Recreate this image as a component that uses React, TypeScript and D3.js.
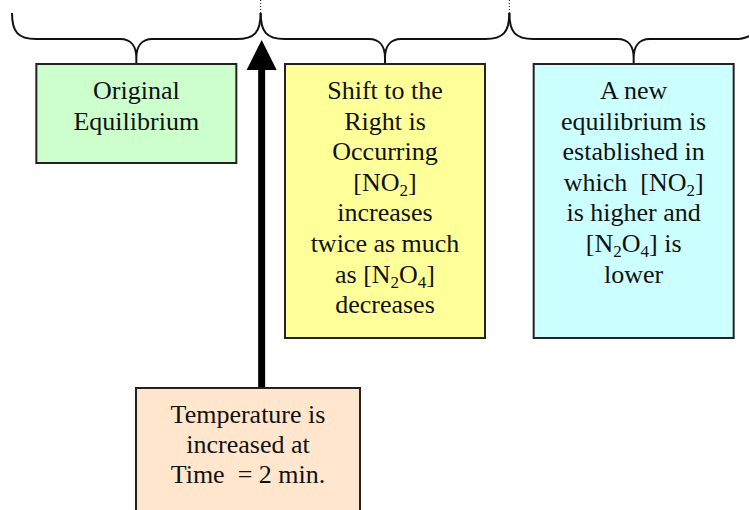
import React from "react";
import * as d3 from "d3";

// time segments (minutes) covered by each brace
const segments = [
  [0, 2],
  [2, 4],
  [4, 6],
];
const eventTime = 2;

// box text, "_n" marks a subscript digit
const boxLines = [
  ["Original", "Equilibrium"],
  [
    "Shift to the",
    "Right is",
    "Occurring",
    "[NO_2]",
    "increases",
    "twice as much",
    "as [N_2O_4]",
    "decreases",
  ],
  [
    "A new",
    "equilibrium is",
    "established in",
    "which  [NO_2]",
    "is higher and",
    "[N_2O_4] is",
    "lower",
  ],
];
const boxHeights = [99, 274, 274];
const boxFills = ["#CCFFCC", "#FFFF99", "#CCFFFF"];

const eventLines = ["Temperature is", "increased at", "Time  = 2 min."];
const eventFill = "#FFE6CC";

const width = 749;
const height = 510;
const x = d3.scaleLinear().domain([0, 6]).range([12, 758]);

const font = "'Liberation Serif', 'Times New Roman', serif";
const fontSize = 26;
const lineGap = 30.6;

function bracePath(x0: number, x1: number) {
  const top = 13;
  const base = 39;
  const tip = 64;
  const xm = (x0 + x1) / 2;
  const p = d3.path();
  p.moveTo(x0, top);
  p.bezierCurveTo(x0, 32, x0 + 6, base, x0 + 24, base);
  p.lineTo(xm - 16, base);
  p.bezierCurveTo(xm - 5, base, xm, 47, xm, 58);
  p.lineTo(xm, tip);
  p.moveTo(xm, 58);
  p.bezierCurveTo(xm, 47, xm + 5, base, xm + 16, base);
  p.lineTo(x1 - 24, base);
  p.bezierCurveTo(x1 - 6, base, x1, 32, x1, top);
  return p.toString();
}

function Line({ text, cx, y }: { text: string; cx: number; y: number }) {
  const parts = text.split(/_(\d)/);
  return (
    <text
      x={cx}
      y={y}
      textAnchor="middle"
      fontFamily={font}
      fontSize={fontSize}
      fill="#111"
      style={{ whiteSpace: "pre" }}
    >
      {parts.map((s, i) =>
        i % 2 === 1 ? (
          <tspan key={i} fontSize={17} dy={5}>
            {s}
          </tspan>
        ) : (
          <tspan key={i} dy={i > 0 ? -5 : 0}>
            {s}
          </tspan>
        )
      )}
    </text>
  );
}

export default function App() {
  const boxW = 200;
  const boxTop = 64;
  const ax = x(eventTime) + 1;
  const evLeft = 136;
  const evW = 224;
  const evTop = 388;

  return (
    <svg
      width={width}
      height={height}
      style={{ position: "absolute", left: 0, top: 0, background: "#fff" }}
    >
      {segments.map(([a, b], i) => (
        <path
          key={"b" + i}
          d={bracePath(x(a), x(b))}
          fill="none"
          stroke="#111"
          strokeWidth={2}
        />
      ))}
      {[2, 4].map((t) => (
        <line
          key={"d" + t}
          x1={x(t)}
          x2={x(t)}
          y1={0}
          y2={13}
          stroke="#111"
          strokeWidth={1}
          strokeDasharray="1,2"
        />
      ))}

      {boxLines.map((lines, i) => {
        const cx = (x(segments[i][0]) + x(segments[i][1])) / 2;
        return (
          <g key={"box" + i}>
            <rect
              x={cx - boxW / 2}
              y={boxTop}
              width={boxW}
              height={boxHeights[i]}
              fill={boxFills[i]}
              stroke="#222"
              strokeWidth={2}
            />
            {lines.map((l, j) => (
              <Line key={j} text={l} cx={cx} y={99 + j * lineGap} />
            ))}
          </g>
        );
      })}

      {/* arrow for the temperature change */}
      <rect x={ax - 3.5} y={69} width={7} height={evTop - 69} fill="#000" />
      <path
        d={`M${ax},40 L${ax + 15},70 L${ax - 15},70 Z`}
        fill="#000"
      />

      <rect
        x={evLeft}
        y={evTop}
        width={evW}
        height={140}
        fill={eventFill}
        stroke="#222"
        strokeWidth={2}
      />
      {eventLines.map((l, j) => (
        <Line key={j} text={l} cx={evLeft + evW / 2} y={423 + j * 30} />
      ))}
    </svg>
  );
}
